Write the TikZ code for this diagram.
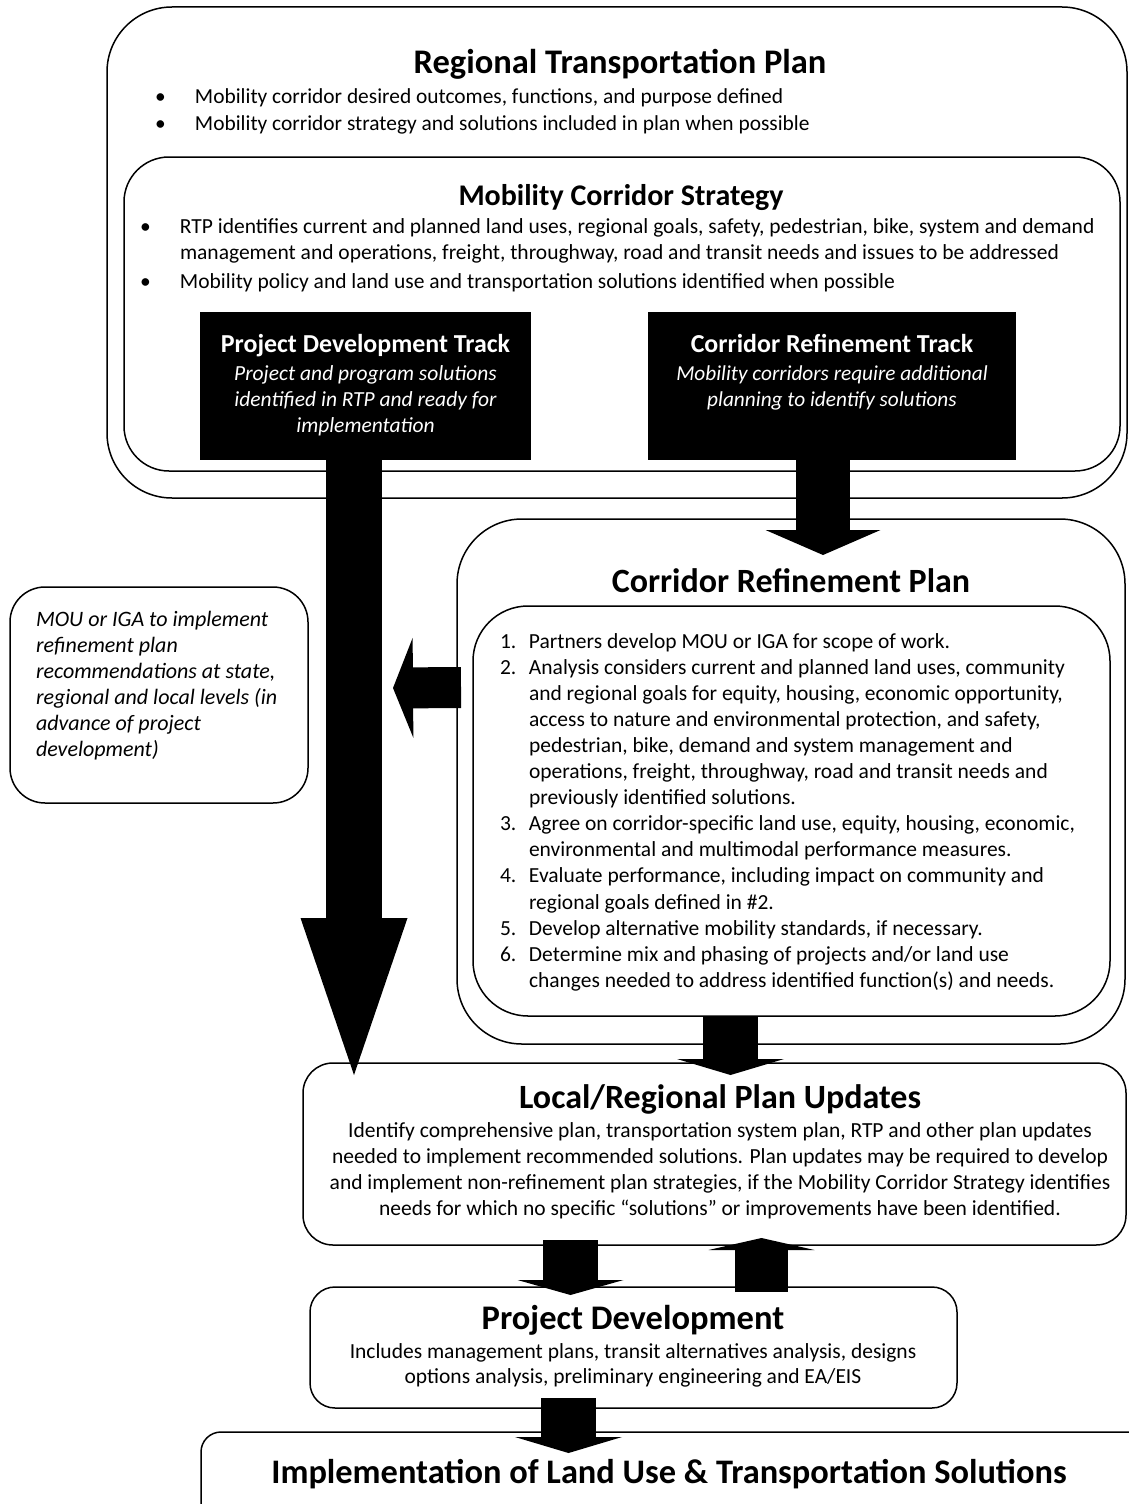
\documentclass[tikz,border=0pt]{standalone}
\usepackage{fontspec}
\setmainfont{Carlito}
\usetikzlibrary{arrows.meta,calc}
\newcommand\fshead[1]{\fontsize{#1}{#1}\selectfont\bfseries}
\newcommand\bul{\makebox[40pt][l]{•}}
\newcommand\num[1]{\makebox[29pt][l]{#1}}
\tikzset{
  box/.style={draw, line width=1.5pt, fill=white, anchor=north west, inner sep=0pt, outer sep=0pt, rounded corners=#1},
  darkbox/.style={fill=black, draw=none, anchor=north west, inner sep=0pt, outer sep=0pt},
  lbl/.style={inner sep=0pt, outer sep=0pt, anchor=base},
  lbll/.style={inner sep=0pt, outer sep=0pt, anchor=base west},
  blockarrow/.style n args={3}{line width=#1, draw=black, -{Triangle[width=#2, length=#3, line width=0pt]}},
}
\begin{document}
\begin{tikzpicture}[x=1pt,y=-1pt]
\path[use as bounding box, fill=white] (0,0) rectangle (1128,1504);

% boxes
\node[box=65pt, minimum width=1020pt, minimum height=491pt] (rtp) at (107,7) {};
\node[box=45pt, minimum width=996pt, minimum height=314pt] (mcs) at (124,157) {};
\node[darkbox, minimum width=331pt, minimum height=148pt] (pdt) at (200,312) {};
\node[darkbox, minimum width=368pt, minimum height=148pt] (crt) at (648,312) {};
\node[box=65pt, minimum width=668pt, minimum height=525pt] (crp) at (457,519) {};
\node[box=55pt, minimum width=637pt, minimum height=410pt] (crpin) at (473,606) {};
\node[box=35pt, minimum width=298pt, minimum height=216pt] (mou) at (10,587) {};
\node[box=30pt, minimum width=823pt, minimum height=182pt] (lrpu) at (303,1063) {};
\node[box=25pt, minimum width=647pt, minimum height=121pt] (pd) at (310,1287) {};
\node[box=20pt, minimum width=960pt, minimum height=120pt] (impl) at (201,1432) {};

% block arrows
\draw[blockarrow={56pt}{107pt}{157pt}] ($(pdt.south)+(-11.5,0)$) -- ($(lrpu.north west)+(51,12)$);
\draw[blockarrow={54pt}{115pt}{25pt}] ($(crt.south)+(-9,0)$) -- ($(crp.north west)+(366,36)$);
\draw[blockarrow={41pt}{100pt}{20pt}] ($(crp.north west)+(4,168.5)$) -- ($(mou.east)+(85,-7)$);
\draw[blockarrow={55pt}{107pt}{16pt}] ($(crpin.south)+(-61,0)$) -- ($(lrpu.north west)+(427.5,12)$);
\draw[blockarrow={55pt}{106pt}{15pt}] ($(lrpu.south west)+(267.5,-5)$) -- ($(pd.north west)+(260.5,8)$);
\draw[blockarrow={53pt}{106pt}{12pt}] ($(pd.north west)+(451.5,5)$) -- ($(lrpu.south west)+(458.5,-7)$);
\draw[blockarrow={55pt}{107pt}{16pt}] ($(pd.south west)+(258.5,-10)$) -- ($(impl.north west)+(367.5,21)$);

% texts
\node[lbl] (rtpT) at (620,74) {\fshead{34.5}Regional Transportation Plan};
\node[lbll] (rtpB) at (155,103) {\fontsize{21.4}{27}\selectfont\begin{tabular}[t]{@{}l@{}l@{}}
\bul & Mobility corridor desired outcomes, functions, and purpose defined\\
\bul & Mobility corridor strategy and solutions included in plan when possible
\end{tabular}};

\node[lbl] (mcsT) at (621,205) {\fshead{30}Mobility Corridor Strategy};
\node[lbll] (mcsB) at (140,233) {\fontsize{21.5}{26}\selectfont\begin{tabular}[t]{@{}l@{}l@{}}
\bul & RTP identifies current and planned land uses, regional goals, safety, pedestrian, bike, system and demand\\
 & management and operations, freight, throughway, road and transit needs and issues to be addressed\\[3pt]
\bul & Mobility policy and land use and transportation solutions identified when possible
\end{tabular}};

\node[lbl, text=white] (pdtT) at (365.5,352) {\fontsize{21.5}{26}\selectfont\begin{tabular}[t]{@{}c@{}}
{\fshead{25.9}Project Development Track}\\[2pt]
\itshape Project and program solutions\\
\itshape identified in RTP and ready for\\
\itshape implementation
\end{tabular}};
\node[lbl, text=white] (crtT) at (832,352) {\fontsize{21.3}{26}\selectfont\begin{tabular}[t]{@{}c@{}}
{\fshead{25.9}Corridor Refinement Track}\\[2pt]
\itshape Mobility corridors require additional\\
\itshape planning to identify solutions
\end{tabular}};

\node[lbl] (crpT) at (791,592) {\fshead{34}Corridor Refinement Plan};
\node[lbll] (crpL) at (500,648) {\fontsize{21.5}{26.1}\selectfont\begin{tabular}[t]{@{}l@{}l@{}}
\num{1.} & Partners develop MOU or IGA for scope of work.\\
\num{2.} & Analysis considers current and planned land uses, community\\
 & and regional goals for equity, housing, economic opportunity,\\
 & access to nature and environmental protection, and safety,\\
 & pedestrian, bike, demand and system management and\\
 & operations, freight, throughway, road and transit needs and\\
 & previously identified solutions.\\
\num{3.} & Agree on corridor-specific land use, equity, housing, economic,\\
 & environmental and multimodal performance measures.\\
\num{4.} & Evaluate performance, including impact on community and\\
 & regional goals defined in \#2.\\
\num{5.} & Develop alternative mobility standards, if necessary.\\
\num{6.} & Determine mix and phasing of projects and/or land use\\
 & changes needed to address identified function(s) and needs.
\end{tabular}};

\node[lbll] (mouT) at (36,626) {\fontsize{22}{26}\selectfont\itshape\begin{tabular}[t]{@{}l@{}}
MOU or IGA to implement\\
refinement plan\\
recommendations at state,\\
regional and local levels (in\\
advance of project\\
development)
\end{tabular}};

\node[lbl] (lrpuT) at (720,1108) {\fshead{34}Local/Regional Plan Updates};
\node[lbl] (lrpuB) at (720,1137) {\fontsize{21.5}{26}\selectfont\begin{tabular}[t]{@{}c@{}}
Identify comprehensive plan, transportation system plan, RTP and other plan updates\\
needed to implement recommended solutions. Plan updates may be required to develop\\
and implement non-refinement plan strategies, if the Mobility Corridor Strategy identifies\\
needs for which no specific “solutions” or improvements have been identified.
\end{tabular}};

\node[lbl] (pdT) at (633,1329) {\fshead{34.5}Project Development};
\node[lbl] (pdB) at (633,1358) {\fontsize{21.5}{25}\selectfont\begin{tabular}[t]{@{}c@{}}
Includes management plans, transit alternatives analysis, designs\\
options analysis, preliminary engineering and EA/EIS
\end{tabular}};

\node[lbl] (implT) at (669,1483) {\fshead{34.4}Implementation of Land Use \& Transportation Solutions};
\end{tikzpicture}
\end{document}
